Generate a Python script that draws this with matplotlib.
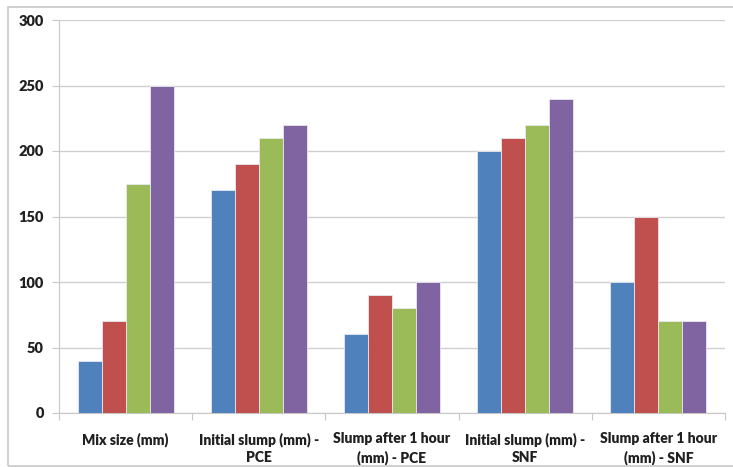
import matplotlib
matplotlib.use("Agg")
import matplotlib.pyplot as plt
import numpy as np
from matplotlib.patches import Rectangle

categories = ["Mix size (mm)", "Initial slump (mm) -\nPCE", "Slump after 1 hour\n(mm) - PCE",
              "Initial slump (mm) -\nSNF", "Slump after 1 hour\n(mm) - SNF"]
series1 = [40, 170, 60, 200, 100]
series2 = [70, 190, 90, 210, 150]
series3 = [175, 210, 80, 220, 70]
series4 = [250, 220, 100, 240, 70]
colors = ["#4F81BD", "#C0504D", "#9BBB59", "#8064A2"]
yticks = [0, 50, 100, 150, 200, 250, 300]

W, H = 733, 467
fig = plt.figure(figsize=(W/100, H/100), dpi=100)
fig.patches.append(Rectangle((8/W, 1-466/H), (W+5-8)/W, (466-7)/H, transform=fig.transFigure,
                             fill=False, edgecolor="#c8c8c8", linewidth=1.2))
ax = fig.add_axes([59/W, 1-413/H, (725-59)/W, (413-20)/H])

x = np.arange(len(categories))
bw = 0.18
for i, s in enumerate([series1, series2, series3, series4]):
    ax.bar(x + (i-1.5)*bw, s, width=bw, color=colors[i], edgecolor="#e8e8f0", linewidth=0.6, zorder=3)

ax.set_ylim(0, 300)
ax.set_xlim(-0.5, len(categories)-0.5)
ax.set_yticks(yticks)
ax.yaxis.grid(True, color="#d0d0d0", linewidth=1, zorder=0)
for sp in ["top", "right"]:
    ax.spines[sp].set_visible(False)
ax.spines["left"].set_color("#c8c8c8")
ax.spines["bottom"].set_color("#c8c8c8")
ax.tick_params(axis="y", length=5, color="#c8c8c8", labelsize=10.5, pad=6)
ax.set_xticks(np.arange(-0.5, len(categories)), minor=False)
ax.set_xticklabels([])
ax.tick_params(axis="x", length=5, color="#c8c8c8")
ax.set_xticks(x, minor=True)
ax.set_xticklabels(categories, minor=True, fontsize=10, fontweight="heavy", linespacing=1.4)
ax.tick_params(axis="x", which="minor", length=0, pad=14)
for lab in ax.get_yticklabels():
    lab.set_fontweight("heavy")
for lab in ax.get_xticklabels(minor=True) + ax.get_yticklabels():
    lab.set_family(["Lato", "DejaVu Sans"])
    lab.set_color("#202020")

fig.savefig("out.png", dpi=100)
